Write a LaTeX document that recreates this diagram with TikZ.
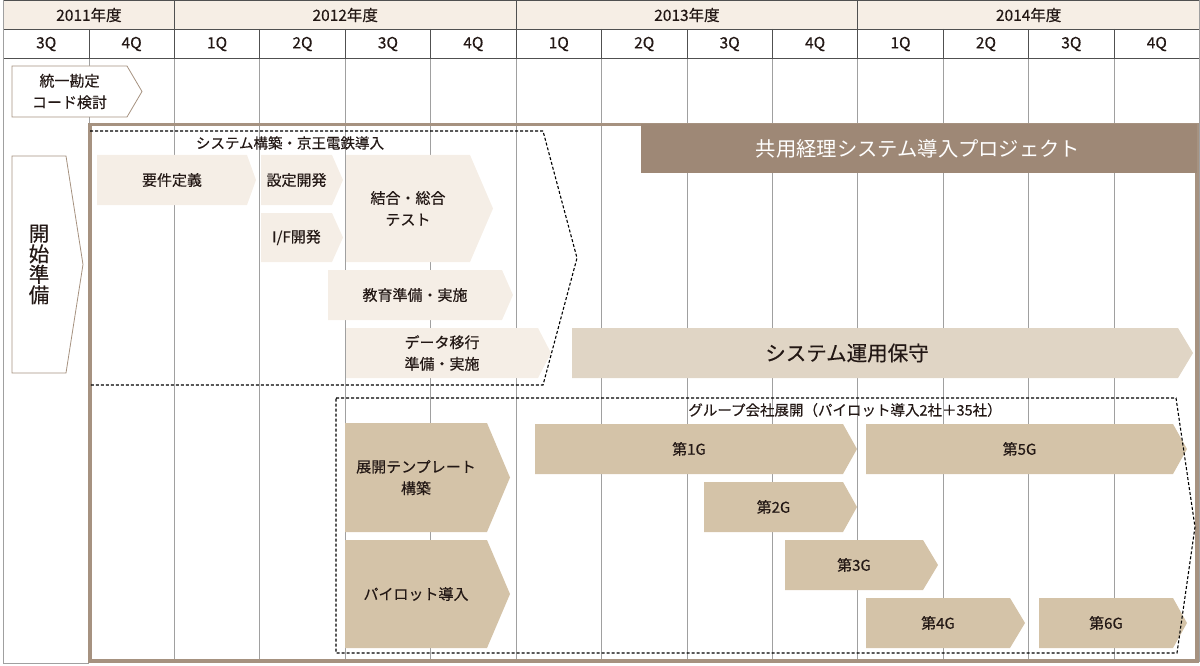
\documentclass[tikz,border=0pt]{standalone}
\usepackage{fontspec}
\setmainfont{Noto Sans CJK JP}[FakeBold=0.35]
\newfontfamily\plainjp{Noto Sans CJK JP}

\definecolor{hdrfill}{RGB}{246,238,229}
\definecolor{framebrown}{RGB}{166,146,128}
\definecolor{titlebrown}{RGB}{158,136,118}
\definecolor{buildfill}{RGB}{245,238,230}
\definecolor{runfill}{RGB}{224,213,197}
\definecolor{rollfill}{RGB}{212,195,168}
\definecolor{gridgray}{RGB}{160,160,160}
\definecolor{hdrline}{RGB}{80,80,80}
\definecolor{txt}{RGB}{35,24,21}

\def\colw{85.43}
\def\colx{3.5}

% phase arrow: [node opts]{name}{style}{x1}{x2}{tip}{y1}{y2}{text}
\newcommand{\phase}[9][]{%
  \fill[#3] (#4,#7) -- (#5,#7) -- (#6,{(#7+#8)/2}) -- (#5,#8) -- (#4,#8) -- cycle;
  \node[phase text,#1] (#2) at ({(#4+#5)/2},{(#7+#8)/2}) {#9};}

\begin{document}
\begin{tikzpicture}[x=1pt,y=-1pt]
    \tikzstyle{grid line}=[draw=gridgray, line width=0.8pt]
    \tikzstyle{hdr line}=[draw=hdrline, line width=0.8pt]
    \tikzstyle{hdr text}=[text=txt, font=\fontsize{15.5}{18}\selectfont, inner sep=0pt]
    \tikzstyle{phase text}=[text=txt, font=\fontsize{15}{21.5}\selectfont, align=center, inner sep=0pt]
    \tikzstyle{build phase}=[fill=buildfill]
    \tikzstyle{run phase}=[fill=runfill]
    \tikzstyle{roll phase}=[fill=rollfill]
    \tikzstyle{outline phase}=[fill=white, draw=framebrown, line width=0.8pt]
    \tikzstyle{group line}=[draw=black, line width=1.1pt, dash pattern=on 3pt off 2pt]
    \tikzstyle{group label}=[text=txt, font=\fontsize{14.5}{16}\selectfont, inner sep=0pt]

    \useasboundingbox (0,0) rectangle (1200,666);

    % Draw the header rows
    \fill[hdrfill] (\colx,0) rectangle (1199.5,29);
    \foreach \i in {1,...,13}
        \draw[grid line] ({\colx+\i*\colw},58) -- ({\colx+\i*\colw},662);
    \foreach \i in {1,...,13}
        \draw[hdr line] ({\colx+\i*\colw},29) -- ({\colx+\i*\colw},58);
    \foreach \i in {2,6,10}
        \draw[hdr line] ({\colx+\i*\colw},0) -- ({\colx+\i*\colw},29);
    \foreach \y in {0.5,29,58}
        \draw[hdr line] (\colx,\y) -- (1199.5,\y);
    \draw[grid line] (\colx,0) -- (\colx,663) -- ({\colx+\colw},663);
    \draw[grid line] (1199.5,0) -- (1199.5,662);

    % Annotate the years and quarters
    \foreach \yr/\c in {2011/1,2012/4,2013/8,2014/12}
        \node[hdr text] (y-\yr) at ({\colx+\c*\colw},15) {\yr 年度};
    \foreach \q [count=\i from 0] in {3,4,1,2,3,4,1,2,3,4,1,2,3,4}
        \node[hdr text] (q-\i) at ({\colx+(\i+0.5)*\colw},44) {\q Q};

    % Draw the project frame
    \draw[framebrown, line width=3.3pt] (90,124.5) rectangle (1197,661);
    \fill[titlebrown] (641,124.5) rectangle (1197,173);
    \node[text=white, font=\plainjp\fontsize{20.3}{22}\selectfont, inner sep=0pt] (title) at (918,149) {共用経理システム導入プロジェクト};

    % Draw the preparation phases
    \phase{code}{outline phase}{12}{127}{142}{66}{117}{統一勘定\\コード検討}
    \phase[font=\fontsize{20.5}{20.5}\selectfont]{start}{outline phase}{12}{66}{83}{156}{373}{開\\始\\準\\備}

    % Draw the system build phases
    \phase{req}{build phase}{97}{247}{256}{155}{205}{要件定義}
    \phase{conf}{build phase}{261}{332}{343}{155}{205}{設定開発}
    \phase{ifdev}{build phase}{261}{332}{343}{213}{262}{I/F開発}
    \phase{test}{build phase}{346}{470}{493}{155}{262}{結合・総合\\テスト}
    \phase{edu}{build phase}{328}{502}{513}{270}{320}{教育準備・実施}
    \phase{migr}{build phase}{346}{538}{551}{328}{378}{データ移行\\準備・実施}
    \phase[xshift=-28pt, font=\fontsize{20.5}{22}\selectfont]{ops}{run phase}{572}{1178}{1193}{328}{378}{システム運用保守}

    % Draw the group rollout phases
    \phase{tmpl}{roll phase}{345}{487}{510}{423}{532}{展開テンプレート\\構築}
    \phase{pilot}{roll phase}{345}{487}{510}{540}{648}{パイロット導入}
    \phase{g1}{roll phase}{535}{843}{857}{424}{474}{第1G}
    \phase{g2}{roll phase}{704}{843}{857}{482}{532}{第2G}
    \phase{g3}{roll phase}{785}{923}{938}{540}{590}{第3G}
    \phase{g4}{roll phase}{866}{1010}{1025}{598}{648}{第4G}
    \phase{g5}{roll phase}{866}{1173}{1187}{424}{474}{第5G}
    \phase{g6}{roll phase}{1039}{1173}{1187}{598}{648}{第6G}

    % Draw the dashed groups
    \draw[group line] (90,131) -- (543,131) -- (577,258) -- (543,385) -- (90,385);
    \node[group label] (build-lbl) at (290,143) {システム構築・京王電鉄導入};
    \draw[group line] (336,398) -- (1176,398) -- (1195,527) -- (1177,653) -- (336,653) -- cycle;
    \node[group label] (roll-lbl) at (845,410) {グループ会社展開（パイロット導入2社＋35社）};
\end{tikzpicture}
\end{document}
